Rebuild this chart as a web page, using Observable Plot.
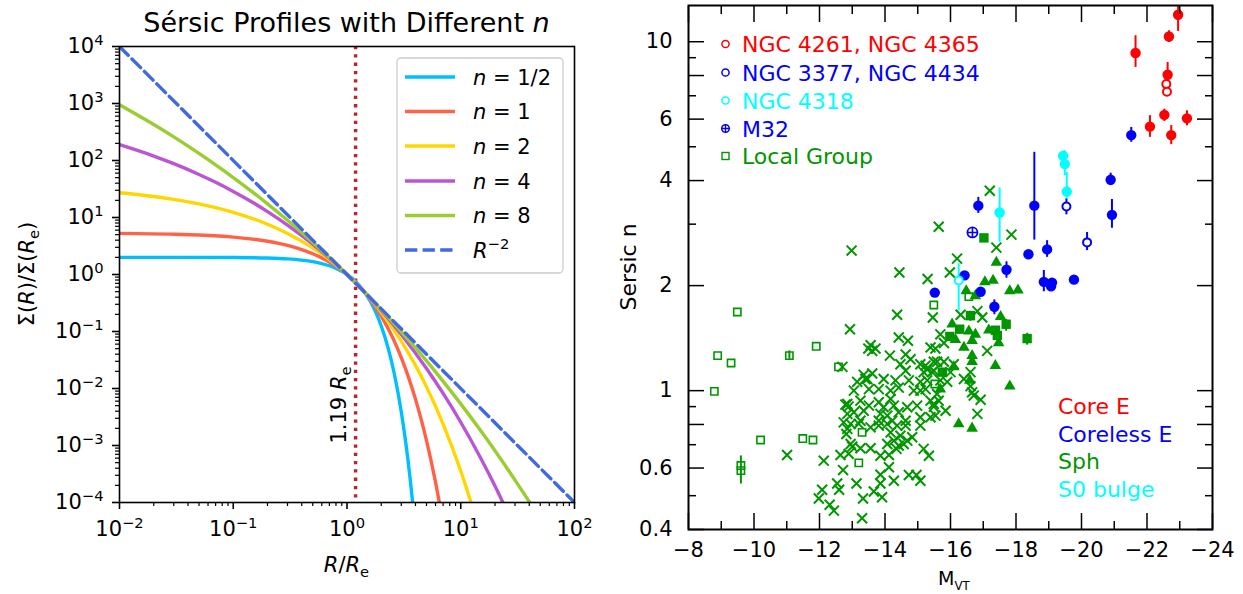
<!DOCTYPE html>
<html><head><meta charset="utf-8">
<script src="https://cdn.jsdelivr.net/npm/d3@7"></script>
<script src="https://cdn.jsdelivr.net/npm/@observablehq/plot@0.6"></script>
<style>
body{margin:0;background:#fff;}
#wrap{position:relative;width:1243px;height:594px;overflow:hidden;font-family:"DejaVu Sans",sans-serif;background:#fff;}
.panel{position:absolute;top:0;}
#over{position:absolute;left:0;top:0;pointer-events:none;font-family:"DejaVu Sans",sans-serif;white-space:pre;}
</style></head>
<body><div id="wrap"><div id="left" class="panel" style="left:0"></div><div id="right" class="panel" style="left:600px"></div><svg id="over" width="1243" height="594"></svg></div>
<script>
// ---------------- LEFT PANEL DATA (Sérsic profiles) ----------------
const nLabels = ["1/2", "1", "2", "4", "8"];
const curveColors = ["#00bfff", "#ff6347", "#ffd700", "#ba55d3", "#9acd32"];
const rHalf = [0.01,0.1,0.2,0.3,0.4,0.5,0.6,0.7,0.8,0.9,1.0,1.2,1.4,1.6,1.8,2.0,2.3,2.6,3.0,3.3,3.6,3.8];
const sHalf = [2.000,1.986,1.945,1.879,1.790,1.682,1.558,1.424,1.283,1.141,1.000,0.737,0.514,0.339,0.212,0.125,0.0512,0.0185,0.00391,0.00105,0.00025,0.000089];
const rOne = [0.01,0.03,0.05,0.1,0.2,0.3,0.4,0.5,0.6,0.7,0.8,1,1.2,1.5,2,2.5,3,3.5,4,4.5,5,5.5,6,6.5,7];
const sOne = [5.267,5.093,4.925,4.529,3.829,3.238,2.737,2.314,1.957,1.654,1.399,1,0.715,0.432,0.1868,0.0807,0.0349,0.01507,0.00651,0.00281,0.00122,0.000526,0.000227,0.000098,0.0000424];
const rTwo = [0.01,0.02,0.03,0.05,0.07,0.1,0.15,0.2,0.3,0.5,0.7,1,1.5,2,3,4,5,7,10,12,13];
const sTwo = [27.24,23.40,20.82,17.30,14.89,12.31,9.49,7.61,5.26,2.93,1.821,1,0.438,0.2185,0.0680,0.0254,0.01068,0.00238,0.000356,0.000118,0.0000699];
const rFour = [0.01,0.02,0.03,0.05,0.07,0.1,0.15,0.2,0.3,0.5,0.7,1,1.5,2,3,5,7,10,15,20,25];
const sFour = [189.4,119.7,87.97,56.95,41.43,28.70,18.11,12.69,7.34,3.39,1.923,1,0.441,0.2343,0.0886,0.02241,0.00819,0.002558,0.000597,0.000194,0.0000764];
const rEight = [0.01,0.02,0.03,0.05,0.07,0.1,0.15,0.2,0.3,0.5,0.7,1,1.5,2,3,5,7,10,15,20,30,40,45];
const sEight = [952,428.4,260.1,133.5,84.0,50.3,27.3,17.37,8.93,3.67,1.98,1,0.443,0.2422,0.0996,0.0305,0.01336,0.00538,0.00181,0.000811,0.000247,0.000103,0.0000713];
const rPow = [0.01, 100];
const sPow = [10000, 0.0001];
const markerR = [1.19];
const xMajorL = [0.01, 0.1, 1, 10, 100];
const yMajorL = [1e-4, 1e-3, 1e-2, 1e-1, 1, 10, 100, 1e3, 1e4];
const minorMult = [2,3,4,5,6,7,8,9];

// ---------------- RIGHT PANEL DATA (Sersic n vs M_VT) ----------------
const coreM  = [-22.95,-22.67,-21.65,-22.63,-22.53,-22.09,-22.74,-23.22];
const coreN  = [11.95,10.35,9.28,8.04,6.17,5.71,5.40,6.03];
const coreLo = [10.7,9.95,8.44,7.40,5.91,5.32,5.07,5.74];
const coreHi = [13.2,10.75,10.4,8.72,6.41,6.14,5.75,6.34];
const coreOpenM = [-22.59,-22.61];
const coreOpenN = [7.56,7.19];
const corelessM  = [-21.52,-20.89,-20.93,-16.85,-18.56,-18.38,-18.95,-17.71,-16.43,-15.52,-16.92,-17.34,-18.85,-19.10,-19.07,-19.77];
const corelessN  = [5.40,4.02,3.19,3.39,3.39,2.46,2.54,2.22,2.14,1.91,1.92,1.74,2.05,2.04,1.99,2.08];
const corelessLo = [5.15,3.87,2.92,3.22,2.70,null,2.41,2.10,null,null,null,1.65,1.92,null,null,2.03];
const corelessHi = [5.68,4.20,3.53,3.58,4.82,null,2.69,2.34,null,null,null,1.82,2.21,null,null,2.13];
const corelessOpenM  = [-19.54,-20.17];
const corelessOpenN  = [3.37,2.66];
const corelessOpenLo = [3.19,2.52];
const corelessOpenHi = [3.55,2.84];
const m32M = [-16.67];
const m32N = [2.84];
const s0M  = [-19.44,-19.49,-19.55,-17.50];
const s0N  = [4.71,4.46,3.72,3.24];
const s0Lo = [null,4.13,3.54,2.66];
const s0Hi = [null,4.87,4.22,3.81];
const s0OpenM  = [-16.25];
const s0OpenN  = [2.07];
const s0OpenLo = [1.69];
const s0OpenHi = [2.31];
const sphSqM  = [-17.02,-16.61,-16.28,-15.98,-17.37,-17.43,-17.70,-18.34,-15.75];
const sphSqN  = [2.74,1.64,1.50,1.43,1.49,1.44,1.55,1.41,1.13];
const sphSqLo = [null,1.58,null,null,null,null,1.48,1.35,null];
const sphSqHi = [null,1.69,null,null,null,null,1.60,1.46,null];
const sphTri = [[-17.40,2.33],[-17.05,2.05],[-17.30,2.07],[-16.48,1.93],[-16.76,1.87],[-17.81,1.93],[-18.06,1.94],[-17.53,1.63],[-16.05,1.55],[-16.15,1.40],[-16.56,1.48],[-16.76,1.45],[-16.41,1.33],[-16.66,1.39],[-17.17,1.49],[-17.47,1.37],[-16.66,1.26],[-16.66,1.21],[-17.37,1.18],[-16.10,1.17],[-16.59,1.07],[-17.81,1.03],[-15.69,1.01],[-16.25,0.803],[-16.66,0.780]];
const localGroup = [[-9.49,1.68],[-8.89,1.26],[-9.30,1.20],[-11.08,1.26],[-11.90,1.34],[-12.58,1.17],[-8.79,0.995],[-10.20,0.722],[-11.49,0.729],[-11.80,0.722],[-9.60,0.59],[-9.60,0.61],[-13.30,0.759],[-13.20,0.621],[-15.49,1.76],[-15.52,1.045],[-16.56,1.86]];
const localErrM  = [-9.60,-11.08];
const localErrLo = [0.54,1.23];
const localErrHi = [0.65,1.30];
const sphCross = [
[-17.20,3.74],[-15.64,2.95],[-12.98,2.52],[-17.86,2.80],[-17.40,2.57],[-16.20,2.39],[-14.44,2.18],[-15.98,2.18],[-15.30,2.09],[-14.37,1.65],[-12.93,1.50],[-15.46,1.62],[-16.31,1.65],[-16.97,1.62],[-16.82,1.69],[-17.12,1.30],[-12.70,1.17],[-13.49,1.32],[-13.61,1.30],[-14.15,1.26],[-11.01,0.654],[-12.13,0.630],
[-14.42,1.42],[-14.70,1.39],[-15.39,1.33],[-13.56,1.35],[-13.71,1.32],[-14.63,1.27],[-14.78,1.23],[-14.47,1.19],[-15.08,1.19],[-15.29,1.15],[-15.49,1.14],[-15.59,1.21],[-13.61,1.12],[-13.40,1.08],[-13.96,1.08],[-14.32,1.07],[-14.63,1.14],[-14.73,1.07],[-15.08,1.06],[-13.05,1.00],[-13.51,1.01],[-13.81,1.01],[-14.17,1.00],[-14.42,1.02],[-14.88,1.00],[-15.08,1.00],
[-12.85,0.916],[-13.25,0.936],[-13.51,0.906],[-13.05,0.867],[-13.35,0.876],[-13.81,0.926],[-13.96,0.896],[-14.17,0.947],[-14.27,0.906],[-14.07,0.848],[-13.86,0.858],[-13.81,0.820],[-14.22,0.820],[-14.42,0.867],[-14.68,0.896],[-14.98,0.906],[-15.08,0.839],[-14.63,0.820],[-15.49,0.916],[-15.39,0.839],[-12.74,0.811],[-13.25,0.820],[-12.85,0.777],[-13.56,0.785],
[-12.72,0.592],[-12.54,0.542],[-12.60,0.520],[-12.08,0.520],[-11.98,0.491],[-12.31,0.471],[-12.44,0.453],[-13.13,0.542],[-13.33,0.491],[-13.30,0.431],[-13.66,0.514],[-13.86,0.542],[-13.91,0.495],[-13.86,0.574],[-14.12,0.603],[-14.27,0.552],[-14.73,0.573],[-14.96,0.573],[-15.08,0.552],[-12.64,0.654],[-12.89,0.659],[-13.00,0.691],[-13.25,0.684],[-13.56,0.684],[-13.86,0.651],[-14.12,0.654],[-14.35,0.681],[-14.07,0.703],[-14.27,0.719],[-14.42,0.696],[-14.57,0.703],[-14.68,0.719],[-14.83,0.735],[-14.47,0.743],[-15.18,0.681],[-15.34,0.651],[-15.08,0.794],[-12.82,0.751],[-12.95,0.803],[-13.20,0.803],[-12.95,0.703],[-13.81,0.794],[-14.07,0.803],[-14.17,0.759],[-14.63,0.794],[-14.37,0.794],
[-15.69,1.45],[-15.80,1.37],[-15.54,1.32],[-15.49,1.21],[-15.80,1.21],[-16.10,1.19],[-15.24,1.18],[-15.18,1.13],[-15.44,1.13],[-16.00,1.13],[-16.61,1.13],[-16.41,1.08],[-15.90,1.06],[-15.29,1.07],[-15.69,1.07],[-16.61,1.03],[-16.66,0.989],[-16.71,0.968],[-16.92,0.942],[-15.59,0.978],[-15.24,1.01],[-15.39,0.936],[-15.64,0.936],[-15.49,0.900],[-15.85,0.876],[-15.54,0.848],[-16.82,0.858],
[-12.79,0.912],[-12.89,0.900],[-12.85,0.858],[-13.35,1.11],[-13.46,1.08],[-13.15,1.06]
];
const xMajorR = [-8,-10,-12,-14,-16,-18,-20,-22,-24];
const xMinorR = [-9,-11,-13,-15,-17,-19,-21,-23];
const yMajorR = [0.4,0.6,0.8,1,2,4,6,8,10];
const yMinorR = [0.5,0.7,0.9,3,5,7,9];
const legendTop = ["NGC 4261, NGC 4365","NGC 3377, NGC 4434","NGC 4318","M32","Local Group"];
const legendBottom = ["Core E","Coreless E","Sph","S0 bulge"];

const RED="#ff0000", BLUE="#0000ff", GREEN="#009600", CYAN="#00ffff";
const FONT='"DejaVu Sans", sans-serif';

// ---------------- helpers ----------------
const zipPts = (M, N) => M.map((m,i) => ({M:m, n:N[i]}));
const pairPts = (P) => P.map(([m,n]) => ({M:m, n}));
const errPts = (M, lo, hi) => M.map((m,i) => ({M:m, lo:lo[i], hi:hi[i]})).filter(d => d.lo != null);
const pow10fmt = d => { const e = Math.round(Math.log10(d)); return "10^" + (e < 0 ? "\u2212" + (-e) : String(e)); };
function supify(svg) {
  d3.select(svg).selectAll("text").each(function() {
    const t = this.textContent;
    if (t.includes("^")) {
      const [b, e] = t.split("^");
      const s = d3.select(this); s.text(b);
      s.append("tspan").attr("dy", -8.5).attr("font-size", "0.7em").text(e);
    }
  });
}

// ---------------- LEFT PLOT ----------------
const curveR = [rHalf, rOne, rTwo, rFour, rEight];
const curveS = [sHalf, sOne, sTwo, sFour, sEight];
const sersicRows = [];
nLabels.forEach((lab, k) => curveR[k].forEach((r, i) => sersicRows.push({label: lab, R: r, S: curveS[k][i]})));
const powRows = rPow.map((r,i) => ({R: r, S: sPow[i]}));
const decL = d3.range(-4, 4);
const xMinorL = d3.range(-2, 2).flatMap(e => minorMult.map(m => m * Math.pow(10, e)));
const yMinorL = decL.flatMap(e => minorMult.map(m => m * Math.pow(10, e)));

const leftPlot = Plot.plot({
  width: 600, height: 594,
  marginLeft: 119, marginRight: 26, marginTop: 46, marginBottom: 92,
  x: {type: "log", domain: [0.01, 100]},
  y: {type: "log", domain: [1e-4, 1e4]},
  color: {domain: nLabels, range: curveColors},
  style: {fontFamily: FONT, fontSize: "21px", color: "#000", background: "transparent", overflow: "visible"},
  marks: [
    Plot.ruleX(markerR, {stroke: "#b5272d", strokeWidth: 3.5, strokeDasharray: "3.3,5"}),
    Plot.line(sersicRows, {x: "R", y: "S", z: "label", stroke: "label", strokeWidth: 3.4, curve: "monotone-x", clip: true}),
    Plot.line(powRows, {x: "R", y: "S", stroke: "#4169e1", strokeWidth: 3.4, strokeDasharray: "12.3,5.3", clip: true}),
    Plot.frame({stroke: "#000", strokeWidth: 1.6}),
    Plot.axisX({ticks: xMajorL, tickSize: 7, tickPadding: 12, tickFormat: pow10fmt, label: null, strokeWidth: 1.6}),
    Plot.axisX({ticks: xMinorL, tickSize: 4, tickFormat: () => "", label: null, strokeWidth: 1.2}),
    Plot.axisY({ticks: yMajorL, tickSize: 7, tickPadding: 9, tickFormat: pow10fmt, label: null, strokeWidth: 1.6}),
    Plot.axisY({ticks: yMinorL, tickSize: 4, tickFormat: () => "", label: null, strokeWidth: 1.2})
  ]
});
supify(leftPlot);
document.getElementById("left").appendChild(leftPlot);

// ---------------- RIGHT PLOT ----------------
const rightPlot = Plot.plot({
  width: 643, height: 594,
  marginLeft: 88, marginRight: 31, marginTop: 5, marginBottom: 65,
  x: {domain: [-8, -24]},
  y: {type: "log", domain: [0.4, 12.7]},
  style: {fontFamily: FONT, fontSize: "21px", color: "#000", background: "transparent", overflow: "visible"},
  marks: [
    Plot.ruleX(errPts(localErrM, localErrLo, localErrHi), {x: "M", y1: "lo", y2: "hi", stroke: GREEN, strokeWidth: 2, clip: true}),
    Plot.ruleX(errPts(sphSqM, sphSqLo, sphSqHi), {x: "M", y1: "lo", y2: "hi", stroke: GREEN, strokeWidth: 2, clip: true}),
    Plot.ruleX(errPts(corelessM, corelessLo, corelessHi), {x: "M", y1: "lo", y2: "hi", stroke: BLUE, strokeWidth: 2, clip: true}),
    Plot.ruleX(errPts(corelessOpenM, corelessOpenLo, corelessOpenHi), {x: "M", y1: "lo", y2: "hi", stroke: BLUE, strokeWidth: 2, clip: true}),
    Plot.ruleX(errPts(coreM, coreLo, coreHi), {x: "M", y1: "lo", y2: "hi", stroke: RED, strokeWidth: 2, clip: true}),
    Plot.ruleX(errPts(s0M, s0Lo, s0Hi), {x: "M", y1: "lo", y2: "hi", stroke: CYAN, strokeWidth: 2, clip: true}),
    Plot.ruleX(errPts(s0OpenM, s0OpenLo, s0OpenHi), {x: "M", y1: "lo", y2: "hi", stroke: CYAN, strokeWidth: 2, clip: true}),
    Plot.dot(pairPts(sphCross), {x: "M", y: "n", symbol: "times", r: 4.6, stroke: GREEN, strokeWidth: 2, fill: "none"}),
    Plot.dot(pairPts(localGroup), {x: "M", y: "n", symbol: "square", r: 4.1, stroke: GREEN, strokeWidth: 1.6, fill: "none"}),
    Plot.dot(pairPts(sphTri), {x: "M", y: "n", symbol: "triangle", r: 4.3, fill: GREEN}),
    Plot.dot(zipPts(sphSqM, sphSqN), {x: "M", y: "n", symbol: "square", r: 5.3, fill: GREEN}),
    Plot.dot(zipPts(corelessM, corelessN), {x: "M", y: "n", r: 5.2, fill: BLUE}),
    Plot.dot(zipPts(corelessOpenM, corelessOpenN), {x: "M", y: "n", r: 4, fill: "#fff", stroke: BLUE, strokeWidth: 2}),
    Plot.dot(zipPts(m32M, m32N), {x: "M", y: "n", r: 5, fill: "#fff", stroke: BLUE, strokeWidth: 1.8}),
    Plot.dot(zipPts(m32M, m32N), {x: "M", y: "n", symbol: "plus", r: 3.3, stroke: BLUE, strokeWidth: 1.6}),
    Plot.dot(zipPts(coreM, coreN), {x: "M", y: "n", r: 5.2, fill: RED}),
    Plot.dot(zipPts(coreOpenM, coreOpenN), {x: "M", y: "n", r: 4, fill: "#fff", stroke: RED, strokeWidth: 2}),
    Plot.dot(zipPts(s0M, s0N), {x: "M", y: "n", r: 5.2, fill: CYAN}),
    Plot.dot(zipPts(s0OpenM, s0OpenN), {x: "M", y: "n", r: 4, fill: "#fff", stroke: CYAN, strokeWidth: 2}),
    Plot.frame({stroke: "#000", strokeWidth: 2}),
    Plot.axisX({ticks: xMajorR, tickSize: 0, tickPadding: 13, tickFormat: d3.format("d"), label: null}),
    Plot.axisX({ticks: xMajorR, tickSize: -16, tickFormat: () => "", label: null, strokeWidth: 1.5}),
    Plot.axisX({ticks: xMinorR, tickSize: -8, tickFormat: () => "", label: null, strokeWidth: 1.5}),
    Plot.axisX({anchor: "top", ticks: xMajorR, tickSize: -16, tickFormat: () => "", label: null, strokeWidth: 1.5}),
    Plot.axisX({anchor: "top", ticks: xMinorR, tickSize: -8, tickFormat: () => "", label: null, strokeWidth: 1.5}),
    Plot.axisY({ticks: yMajorR, tickSize: 0, tickPadding: 16, tickFormat: d => String(d), label: null}),
    Plot.axisY({ticks: yMajorR, tickSize: -16, tickFormat: () => "", label: null, strokeWidth: 1.5}),
    Plot.axisY({ticks: yMinorR, tickSize: -8, tickFormat: () => "", label: null, strokeWidth: 1.5}),
    Plot.axisY({anchor: "right", ticks: yMajorR, tickSize: -16, tickFormat: () => "", label: null, strokeWidth: 1.5}),
    Plot.axisY({anchor: "right", ticks: yMinorR, tickSize: -8, tickFormat: () => "", label: null, strokeWidth: 1.5})
  ]
});
document.getElementById("right").appendChild(rightPlot);

// ---------------- OVERLAY: titles, axis labels, legends ----------------
const ov = d3.select("#over");
function rich(x, y, parts, size, opts = {}) {
  const g = ov.append("g").attr("transform", `translate(${x},${y})` + (opts.rotate ? ` rotate(${opts.rotate})` : ""));
  const t = g.append("text").attr("font-size", size).attr("text-anchor", opts.anchor || "start")
    .attr("fill", opts.fill || "#000");
  if (opts.weight) t.attr("font-weight", opts.weight);
  let shift = 0;
  parts.forEach(p => {
    const [s, kind] = typeof p === "string" ? [p, null] : p;
    const ts = t.append("tspan").text(s);
    let target = 0;
    if (kind === "i") ts.attr("font-style", "italic");
    if (kind === "sub") { ts.attr("font-size", size * 0.7); target = size * 0.22; }
    if (kind === "subl") { ts.attr("font-size", size * 0.62); target = size * 0.25; }
    if (kind === "sup") { ts.attr("font-size", size * 0.7); target = -size * 0.42; }
    if (target !== shift) { ts.attr("dy", target - shift); shift = target; }
  });
  return t;
}

// left panel texts
rich(346.5, 32, ["Sérsic Profiles with Different ", ["n", "i"]], 27, {anchor: "middle"});
rich(346.5, 572, [["R", "i"], "/", ["R", "i"], ["e", "sub"]], 21, {anchor: "middle"});
rich(34, 274, ["Σ(", ["R", "i"], ")/Σ(", ["R", "i"], ["e", "sub"], ")"], 21, {anchor: "middle", rotate: -90});
rich(346, 405, ["1.19 ", ["R", "i"], ["e", "sub"]], 21, {anchor: "middle", rotate: -90});

// left legend
ov.append("rect").attr("x", 397).attr("y", 58).attr("width", 166).attr("height", 215).attr("rx", 4)
  .attr("fill", "#fff").attr("fill-opacity", 0.8).attr("stroke", "#cccccc").attr("stroke-width", 1.3);
const legRows = [77, 111.5, 146, 181, 215.5, 250];
nLabels.forEach((lab, k) => {
  const y = legRows[k];
  ov.append("line").attr("x1", 405).attr("x2", 455).attr("y1", y).attr("y2", y)
    .attr("stroke", curveColors[k]).attr("stroke-width", 3.4);
  rich(473, y + 7.5, [["n", "i"], " = " + lab], 21);
});
ov.append("line").attr("x1", 405).attr("x2", 455).attr("y1", legRows[5]).attr("y2", legRows[5])
  .attr("stroke", "#4169e1").attr("stroke-width", 3.4).attr("stroke-dasharray", "12.3,5.3");
rich(473, legRows[5] + 7.5, [["R", "i"], ["\u22122", "sup"]], 21);

// right panel texts
rich(636, 267, ["Sersic n"], 22, {anchor: "middle", rotate: -90});
rich(938, 585, ["M", ["VT", "subl"]], 19);
const topColors = [RED, BLUE, CYAN, BLUE, GREEN];
const topBase = [52, 80.5, 108.5, 136.5, 164];
legendTop.forEach((lab, k) => {
  const y = topBase[k], cy = y - 8;
  if (k < 3) ov.append("circle").attr("cx", 725.5).attr("cy", cy).attr("r", 3.6).attr("fill", "none").attr("stroke", topColors[k]).attr("stroke-width", 1.5);
  if (k === 3) {
    ov.append("circle").attr("cx", 725.5).attr("cy", cy).attr("r", 3.8).attr("fill", "none").attr("stroke", BLUE).attr("stroke-width", 1.5);
    ov.append("path").attr("d", `M${721.7},${cy}H${729.3}M725.5,${cy-3.8}V${cy+3.8}`).attr("stroke", BLUE).attr("stroke-width", 1.3);
  }
  if (k === 4) ov.append("rect").attr("x", 722).attr("y", cy - 3.5).attr("width", 7).attr("height", 7).attr("fill", "none").attr("stroke", GREEN).attr("stroke-width", 1.4);
  rich(742, y, [lab], 22, {fill: topColors[k]});
});
const botColors = [RED, BLUE, GREEN, CYAN];
const botBase = [414, 441.7, 469.3, 497];
legendBottom.forEach((lab, k) => rich(1058, botBase[k], [lab], 22, {fill: botColors[k]}));
</script>
</body></html>
